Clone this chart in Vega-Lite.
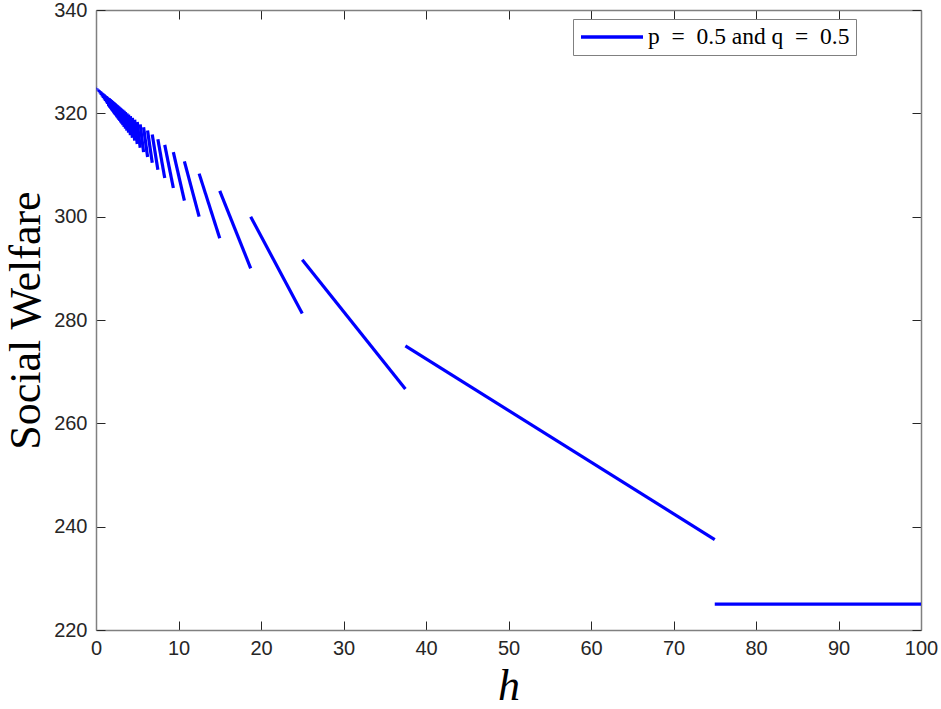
{
  "$schema": "https://vega.github.io/schema/vega-lite/v6.json",
  "width": 825,
  "height": 620,
  "autosize": {"type": "none"},
  "padding": {"left": 96, "top": 10, "right": 20, "bottom": 79},
  "background": "white",
  "config": {"view": {"stroke": null}},
  "data": {"values": [
    {"s":1,"h":75,"w":225},{"s":1,"h":100,"w":225},
    {"s":2,"h":37.5,"w":275},{"s":2,"h":75,"w":237.5},
    {"s":3,"h":25,"w":291.667},{"s":3,"h":37.5,"w":266.667},
    {"s":4,"h":18.75,"w":300},{"s":4,"h":25,"w":281.25},
    {"s":5,"h":15,"w":305},{"s":5,"h":18.75,"w":290},
    {"s":6,"h":12.5,"w":308.333},{"s":6,"h":15,"w":295.833},
    {"s":7,"h":10.714,"w":310.714},{"s":7,"h":12.5,"w":300},
    {"s":8,"h":9.375,"w":312.5},{"s":8,"h":10.714,"w":303.125},
    {"s":9,"h":8.333,"w":313.889},{"s":9,"h":9.375,"w":305.556},
    {"s":10,"h":7.5,"w":315},{"s":10,"h":8.333,"w":307.5},
    {"s":11,"h":6.818,"w":315.909},{"s":11,"h":7.5,"w":309.091},
    {"s":12,"h":6.25,"w":316.667},{"s":12,"h":6.818,"w":310.417},
    {"s":13,"h":5.769,"w":317.308},{"s":13,"h":6.25,"w":311.538},
    {"s":14,"h":5.357,"w":317.857},{"s":14,"h":5.769,"w":312.5},
    {"s":15,"h":5,"w":318.333},{"s":15,"h":5.357,"w":313.333},
    {"s":16,"h":4.688,"w":318.75},{"s":16,"h":5,"w":314.063},
    {"s":17,"h":4.412,"w":319.118},{"s":17,"h":4.688,"w":314.706},
    {"s":18,"h":4.167,"w":319.444},{"s":18,"h":4.412,"w":315.278},
    {"s":19,"h":3.947,"w":319.737},{"s":19,"h":4.167,"w":315.789},
    {"s":20,"h":3.75,"w":320},{"s":20,"h":3.947,"w":316.25},
    {"s":21,"h":3.571,"w":320.238},{"s":21,"h":3.75,"w":316.667},
    {"s":22,"h":3.409,"w":320.455},{"s":22,"h":3.571,"w":317.045},
    {"s":23,"h":3.261,"w":320.652},{"s":23,"h":3.409,"w":317.391},
    {"s":24,"h":3.125,"w":320.833},{"s":24,"h":3.261,"w":317.708},
    {"s":25,"h":3,"w":321},{"s":25,"h":3.125,"w":318},
    {"s":26,"h":2.885,"w":321.154},{"s":26,"h":3,"w":318.269},
    {"s":27,"h":2.778,"w":321.296},{"s":27,"h":2.885,"w":318.519},
    {"s":28,"h":2.679,"w":321.429},{"s":28,"h":2.778,"w":318.75},
    {"s":29,"h":2.586,"w":321.552},{"s":29,"h":2.679,"w":318.966},
    {"s":30,"h":2.5,"w":321.667},{"s":30,"h":2.586,"w":319.167},
    {"s":31,"h":2.419,"w":321.774},{"s":31,"h":2.5,"w":319.355},
    {"s":32,"h":2.344,"w":321.875},{"s":32,"h":2.419,"w":319.531},
    {"s":33,"h":2.273,"w":321.97},{"s":33,"h":2.344,"w":319.697},
    {"s":34,"h":2.206,"w":322.059},{"s":34,"h":2.273,"w":319.853},
    {"s":35,"h":2.143,"w":322.143},{"s":35,"h":2.206,"w":320},
    {"s":36,"h":2.083,"w":322.222},{"s":36,"h":2.143,"w":320.139},
    {"s":37,"h":2.027,"w":322.297},{"s":37,"h":2.083,"w":320.27},
    {"s":38,"h":1.974,"w":322.368},{"s":38,"h":2.027,"w":320.395},
    {"s":39,"h":1.923,"w":322.436},{"s":39,"h":1.974,"w":320.513},
    {"s":40,"h":1.875,"w":322.5},{"s":40,"h":1.923,"w":320.625},
    {"s":41,"h":1.829,"w":322.561},{"s":41,"h":1.875,"w":320.732},
    {"s":42,"h":1.786,"w":322.619},{"s":42,"h":1.829,"w":320.833},
    {"s":43,"h":1.744,"w":322.674},{"s":43,"h":1.786,"w":320.93},
    {"s":44,"h":1.705,"w":322.727},{"s":44,"h":1.744,"w":321.023},
    {"s":45,"h":1.667,"w":322.778},{"s":45,"h":1.705,"w":321.111},
    {"s":46,"h":1.63,"w":322.826},{"s":46,"h":1.667,"w":321.196},
    {"s":47,"h":1.596,"w":322.872},{"s":47,"h":1.63,"w":321.277},
    {"s":48,"h":1.563,"w":322.917},{"s":48,"h":1.596,"w":321.354},
    {"s":49,"h":1.531,"w":322.959},{"s":49,"h":1.563,"w":321.429},
    {"s":50,"h":1.5,"w":323},{"s":50,"h":1.531,"w":321.5},
    {"s":55,"h":1.364,"w":323.182},{"s":55,"h":1.389,"w":321.818},
    {"s":60,"h":1.25,"w":323.333},{"s":60,"h":1.271,"w":322.083},
    {"s":67,"h":1.119,"w":323.507},{"s":67,"h":1.136,"w":322.388},
    {"s":75,"h":1,"w":323.667},{"s":75,"h":1.014,"w":322.667},
    {"s":86,"h":0.872,"w":323.837},{"s":86,"h":0.882,"w":322.965},
    {"s":100,"h":0.75,"w":324},{"s":100,"h":0.758,"w":323.25},
    {"s":120,"h":0.625,"w":324.167},{"s":120,"h":0.63,"w":323.542},
    {"s":150,"h":0.5,"w":324.333},{"s":150,"h":0.503,"w":323.833},
    {"s":200,"h":0.375,"w":324.5},{"s":200,"h":0.377,"w":324.125},
    {"s":300,"h":0.25,"w":324.667},{"s":300,"h":0.251,"w":324.417},
    {"s":600,"h":0.125,"w":324.833},{"s":600,"h":0.125,"w":324.708},
    {"s":1000,"h":0,"w":325},{"s":1000,"h":0.02,"w":324.95}
  ]},
  "layer": [
    {
      "mark": {"type": "line", "strokeWidth": 3.2, "clip": true},
      "encoding": {
        "x": {
          "field": "h", "type": "quantitative",
          "scale": {"domain": [0, 100], "nice": false, "zero": false},
          "axis": {
            "orient": "bottom", "values": [0,10,20,30,40,50,60,70,80,90,100],
            "grid": false, "tickSize": -9, "labelPadding": 17, "labelFlush": false,
            "labelFont": "Liberation Sans", "labelFontSize": 20, "labelColor": "#262626",
            "tickColor": "#262626", "domainColor": "#808080", "domainWidth": 1.5,
            "title": "h", "titleFont": "Liberation Serif", "titleFontStyle": "italic",
            "titleFontWeight": "normal", "titleFontSize": 44, "titleColor": "#000000",
            "titleY": 69, "titleBaseline": "alphabetic"
          }
        },
        "y": {
          "field": "w", "type": "quantitative",
          "scale": {"domain": [220, 340], "nice": false, "zero": false},
          "axis": {
            "orient": "left", "values": [220,240,260,280,300,320,340],
            "grid": false, "tickSize": -9, "labelPadding": 18,
            "labelFont": "Liberation Sans", "labelFontSize": 20, "labelColor": "#262626",
            "tickColor": "#262626", "domainColor": "#808080", "domainWidth": 1.5,
            "title": "Social Welfare", "titleFont": "Liberation Serif",
            "titleFontWeight": "normal", "titleFontSize": 44, "titleColor": "#000000",
            "titleX": -57, "titleBaseline": "alphabetic", "titleAngle": -90
          }
        },
        "detail": {"field": "s", "type": "nominal"},
        "color": {
          "datum": "p\u2002=\u20020.5 and q\u2002=\u20020.5\u2009", "type": "nominal",
          "scale": {"range": ["#0000ff"]},
          "legend": {
            "orient": "none", "legendX": 477, "legendY": 9, "title": null,
            "symbolType": "M-1,0H5.2", "symbolSize": 400, "symbolStrokeWidth": 3.5,
            "symbolStrokeColor": "#0000ff",
            "labelFont": "Liberation Serif", "labelFontSize": 23.5, "labelColor": "#000000",
            "labelOffset": 45, "labelLimit": 500, "padding": 6,
            "strokeColor": "#808080", "fillColor": "white"
          }
        }
      }
    },
    {
      "mark": {"type": "line", "opacity": 0},
      "encoding": {
        "x": {
          "field": "h", "type": "quantitative",
          "axis": {
            "orient": "top", "values": [0,10,20,30,40,50,60,70,80,90,100],
            "grid": false, "labels": false, "title": null, "tickSize": -9,
            "tickColor": "#262626", "domainColor": "#808080", "domainWidth": 1.5
          }
        },
        "y": {
          "field": "w", "type": "quantitative",
          "axis": {
            "orient": "right", "values": [220,240,260,280,300,320,340],
            "grid": false, "labels": false, "title": null, "tickSize": -9,
            "tickColor": "#262626", "domainColor": "#808080", "domainWidth": 1.5
          }
        },
        "detail": {"field": "s", "type": "nominal"}
      }
    }
  ],
  "resolve": {"axis": {"x": "independent", "y": "independent"}}
}
